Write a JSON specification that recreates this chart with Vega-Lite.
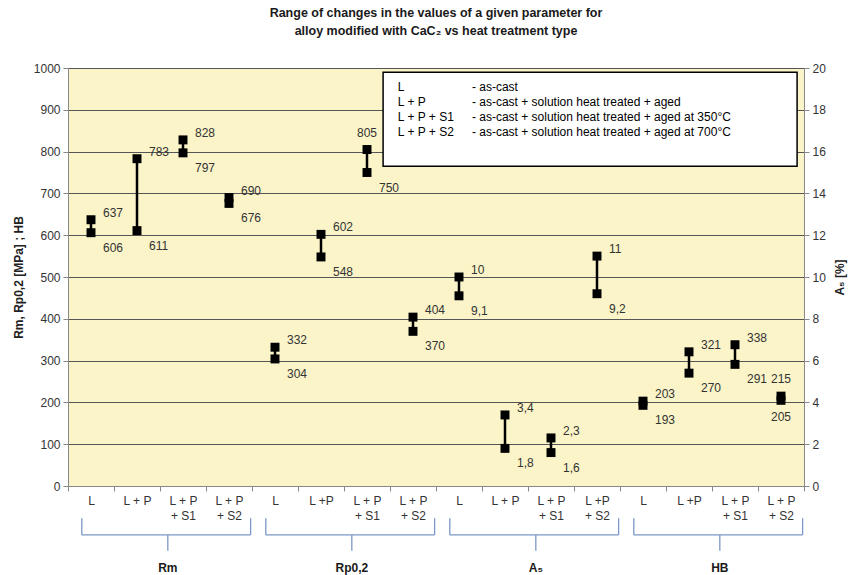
{
  "$schema": "https://vega.github.io/schema/vega-lite/v6.json",
  "width": 736,
  "height": 418,
  "autosize": {"type": "none"},
  "padding": {"left": 68, "top": 68, "right": 55, "bottom": 89},
  "title": {
    "text": ["Range of changes in the values of a given parameter for", "alloy modified with CaC₂ vs heat treatment type"],
    "font": "Liberation Sans",
    "fontSize": 12.5,
    "fontWeight": "bold",
    "color": "#1a1a1a",
    "anchor": "middle",
    "lineHeight": 18,
    "offset": 25
  },
  "datasets": {
    "vals": [
      {"cat": "Rm/L", "group": "Rm", "lo": 606, "hi": 637},
      {"cat": "Rm/L + P", "group": "Rm", "lo": 611, "hi": 783},
      {"cat": "Rm/L + P|+ S1", "group": "Rm", "lo": 797, "hi": 828},
      {"cat": "Rm/L + P|+ S2", "group": "Rm", "lo": 676, "hi": 690},
      {"cat": "Rp/L", "group": "Rp", "lo": 304, "hi": 332},
      {"cat": "Rp/L +P", "group": "Rp", "lo": 548, "hi": 602},
      {"cat": "Rp/L + P|+ S1", "group": "Rp", "lo": 750, "hi": 805},
      {"cat": "Rp/L + P|+ S2", "group": "Rp", "lo": 370, "hi": 404},
      {"cat": "A5/L", "group": "A5", "lo": 9.1, "hi": 10},
      {"cat": "A5/L + P", "group": "A5", "lo": 1.8, "hi": 3.4},
      {"cat": "A5/L + P|+ S1", "group": "A5", "lo": 1.6, "hi": 2.3},
      {"cat": "A5/L +P|+ S2", "group": "A5", "lo": 9.2, "hi": 11},
      {"cat": "HB/L", "group": "HB", "lo": 193, "hi": 203},
      {"cat": "HB/L +P", "group": "HB", "lo": 270, "hi": 321},
      {"cat": "HB/L + P|+ S1", "group": "HB", "lo": 291, "hi": 338},
      {"cat": "HB/L + P|+ S2", "group": "HB", "lo": 205, "hi": 215}
    ],
    "groups": [
      {"name": "Rm", "first": "Rm/L", "center": "Rm/L + P|+ S1", "last": "Rm/L + P|+ S2"},
      {"name": "Rp0,2", "first": "Rp/L", "center": "Rp/L + P|+ S1", "last": "Rp/L + P|+ S2"},
      {"name": "A₅", "first": "A5/L", "center": "A5/L + P|+ S1", "last": "A5/L +P|+ S2"},
      {"name": "HB", "first": "HB/L", "center": "HB/L + P|+ S1", "last": "HB/L + P|+ S2"}
    ],
    "key": [
      {
        "codes": ["L", "L + P", "L + P + S1", "L + P + S2"],
        "descs": [
          "- as-cast",
          "- as-cast + solution heat treated + aged",
          "- as-cast + solution heat treated + aged at 350°C",
          "- as-cast + solution heat treated + aged at 700°C"
        ]
      }
    ]
  },
  "layer": [
    {
      "layer": [
        {
          "data": {"name": "vals"},
          "transform": [{"filter": "datum.group !== 'A5'"}],
          "mark": {"type": "rule", "color": "black", "strokeWidth": 2.5},
          "encoding": {
            "x": {
              "field": "cat",
              "type": "nominal",
              "scale": {
                "type": "band",
                "paddingInner": 0,
                "paddingOuter": 0,
                "domain": ["Rm/L", "Rm/L + P", "Rm/L + P|+ S1", "Rm/L + P|+ S2", "Rp/L", "Rp/L +P", "Rp/L + P|+ S1", "Rp/L + P|+ S2", "A5/L", "A5/L + P", "A5/L + P|+ S1", "A5/L +P|+ S2", "HB/L", "HB/L +P", "HB/L + P|+ S1", "HB/L + P|+ S2"]
              },
              "axis": {
                "title": null,
                "labelExpr": "isString(datum.value) && indexof(datum.value, '/') > 0 ? split(split(datum.value, '/')[1], '|') : ''",
                "labelAngle": 0,
                "labelPadding": 4,
                "labelLineHeight": 15,
                "tickBand": "extent"
              }
            },
            "y": {
              "field": "lo",
              "type": "quantitative",
              "scale": {"domain": [0, 1000], "nice": false},
              "axis": {"title": "Rm, Rp0,2 [MPa] ; HB", "titlePadding": 8}
            },
            "y2": {"field": "hi"}
          }
        },
        {
          "data": {"name": "vals"},
          "transform": [{"filter": "datum.group !== 'A5'"}],
          "mark": {"type": "point", "shape": "square", "filled": true, "color": "black", "size": 80, "opacity": 1},
          "encoding": {
            "x": {"field": "cat", "type": "nominal"},
            "y": {"field": "hi", "type": "quantitative"}
          }
        },
        {
          "data": {"name": "vals"},
          "transform": [{"filter": "datum.group !== 'A5'"}],
          "mark": {"type": "point", "shape": "square", "filled": true, "color": "black", "size": 80, "opacity": 1},
          "encoding": {
            "x": {"field": "cat", "type": "nominal"},
            "y": {"field": "lo", "type": "quantitative"}
          }
        },
        {
          "data": {"name": "vals"},
          "transform": [{"filter": "datum.group !== 'A5'"}],
          "mark": {
            "type": "text",
            "baseline": "middle",
            "fontSize": 12,
            "color": "#333",
            "align": {"expr": "datum.cat === 'Rp/L + P|+ S1' || datum.cat === 'HB/L + P|+ S2' ? 'center' : 'left'"},
            "dx": {"expr": "datum.cat === 'Rp/L + P|+ S1' || datum.cat === 'HB/L + P|+ S2' ? 0 : 12"},
            "dy": {"expr": "datum.cat === 'Rp/L + P|+ S1' || datum.cat === 'HB/L + P|+ S2' ? -17 : -7"}
          },
          "encoding": {
            "x": {"field": "cat", "type": "nominal"},
            "y": {"field": "hi", "type": "quantitative"},
            "text": {"field": "hi", "type": "quantitative", "format": "~g"}
          }
        },
        {
          "data": {"name": "vals"},
          "transform": [{"filter": "datum.group !== 'A5'"}],
          "mark": {
            "type": "text",
            "baseline": "middle",
            "fontSize": 12,
            "color": "#333",
            "align": {"expr": "datum.cat === 'HB/L + P|+ S2' ? 'center' : 'left'"},
            "dx": {"expr": "datum.cat === 'HB/L + P|+ S2' ? 0 : 12"},
            "dy": {"expr": "datum.cat === 'HB/L + P|+ S2' ? 17 : 15"}
          },
          "encoding": {
            "x": {"field": "cat", "type": "nominal"},
            "y": {"field": "lo", "type": "quantitative"},
            "text": {"field": "lo", "type": "quantitative", "format": "~g"}
          }
        },
        {
          "data": {"name": "groups"},
          "mark": {"type": "rule", "color": "#7b98c6", "strokeWidth": 1.3},
          "encoding": {
            "x": {"field": "first", "type": "nominal", "bandPosition": 0.3},
            "x2": {"field": "last", "bandPosition": 0.97},
            "y": {"datum": -117, "type": "quantitative"}
          }
        },
        {
          "data": {"name": "groups"},
          "mark": {"type": "rule", "color": "#7b98c6", "strokeWidth": 1.3},
          "encoding": {
            "x": {"field": "first", "type": "nominal", "bandPosition": 0.3},
            "y": {"datum": -117, "type": "quantitative"},
            "y2": {"datum": -77}
          }
        },
        {
          "data": {"name": "groups"},
          "mark": {"type": "rule", "color": "#7b98c6", "strokeWidth": 1.3},
          "encoding": {
            "x": {"field": "last", "type": "nominal", "bandPosition": 0.97},
            "y": {"datum": -117, "type": "quantitative"},
            "y2": {"datum": -77}
          }
        },
        {
          "data": {"name": "groups"},
          "mark": {"type": "rule", "color": "#7b98c6", "strokeWidth": 1.3},
          "encoding": {
            "x": {"field": "center", "type": "nominal", "bandPosition": 0.17},
            "y": {"datum": -117, "type": "quantitative"},
            "y2": {"datum": -155}
          }
        },
        {
          "data": {"name": "groups"},
          "mark": {"type": "text", "fontSize": 12, "fontWeight": "bold", "color": "#1a1a1a", "baseline": "middle", "align": "center"},
          "encoding": {
            "x": {"field": "center", "type": "nominal", "bandPosition": 0.17},
            "y": {"datum": -196, "type": "quantitative"},
            "text": {"field": "name", "type": "nominal"}
          }
        },
        {
          "data": {"name": "key"},
          "mark": {"type": "rect", "fill": "white", "stroke": "black", "strokeWidth": 1.5},
          "encoding": {
            "x": {"datum": "Rp/L + P|+ S1", "type": "nominal", "bandPosition": 0.85},
            "x2": {"datum": "HB/L + P|+ S2", "bandPosition": 0.85},
            "y": {"datum": 990, "type": "quantitative"},
            "y2": {"datum": 765}
          }
        },
        {
          "data": {"name": "key"},
          "mark": {"type": "text", "align": "left", "baseline": "top", "fontSize": 12, "lineHeight": 15, "color": "black"},
          "encoding": {
            "x": {"datum": "Rp/L + P|+ S2", "type": "nominal", "bandPosition": 0.17},
            "y": {"datum": 966, "type": "quantitative"},
            "text": {"field": "codes", "type": "nominal"}
          }
        },
        {
          "data": {"name": "key"},
          "mark": {"type": "text", "align": "left", "baseline": "top", "fontSize": 12, "lineHeight": 15, "color": "black"},
          "encoding": {
            "x": {"datum": "A5/L", "type": "nominal", "bandPosition": 0.78},
            "y": {"datum": 966, "type": "quantitative"},
            "text": {"field": "descs", "type": "nominal"}
          }
        }
      ]
    },
    {
      "data": {"name": "vals"},
      "transform": [{"filter": "datum.group === 'A5'"}],
      "layer": [
        {
          "mark": {"type": "rule", "color": "black", "strokeWidth": 2.5},
          "encoding": {
            "x": {"field": "cat", "type": "nominal"},
            "y": {
              "field": "lo",
              "type": "quantitative",
              "scale": {"domain": [0, 20], "nice": false},
              "axis": {"title": "A₅ [%]", "grid": false, "titleAngle": 270, "titleBaseline": "top", "titlePadding": 9}
            },
            "y2": {"field": "hi"}
          }
        },
        {
          "mark": {"type": "point", "shape": "square", "filled": true, "color": "black", "size": 80, "opacity": 1},
          "encoding": {
            "x": {"field": "cat", "type": "nominal"},
            "y": {"field": "hi", "type": "quantitative"}
          }
        },
        {
          "mark": {"type": "point", "shape": "square", "filled": true, "color": "black", "size": 80, "opacity": 1},
          "encoding": {
            "x": {"field": "cat", "type": "nominal"},
            "y": {"field": "lo", "type": "quantitative"}
          }
        },
        {
          "mark": {"type": "text", "align": "left", "baseline": "middle", "dx": 12, "dy": -7, "fontSize": 12, "color": "#333"},
          "encoding": {
            "x": {"field": "cat", "type": "nominal"},
            "y": {"field": "hi", "type": "quantitative"},
            "text": {"field": "hi", "type": "quantitative", "format": "~g"}
          }
        },
        {
          "mark": {"type": "text", "align": "left", "baseline": "middle", "dx": 12, "dy": 15, "fontSize": 12, "color": "#333"},
          "encoding": {
            "x": {"field": "cat", "type": "nominal"},
            "y": {"field": "lo", "type": "quantitative"},
            "text": {"field": "lo", "type": "quantitative", "format": "~g"}
          }
        }
      ]
    }
  ],
  "resolve": {"scale": {"y": "independent"}},
  "config": {
    "locale": {"number": {"decimal": ",", "thousands": " ", "grouping": [3], "currency": ["", ""]}},
    "font": "Liberation Sans",
    "view": {"fill": "#FAF4C8", "stroke": null},
    "text": {"font": "Liberation Sans"},
    "axis": {
      "labelFont": "Liberation Sans",
      "labelFontSize": 12,
      "labelColor": "#333",
      "tickColor": "#888",
      "domainColor": "#888",
      "tickSize": 5,
      "titleFont": "Liberation Sans",
      "titleFontSize": 12,
      "titleFontWeight": "bold",
      "titleColor": "#222"
    },
    "axisY": {"gridColor": "#555", "gridWidth": 1.2, "format": "d", "tickCount": 10, "labelPadding": 3}
  }
}
